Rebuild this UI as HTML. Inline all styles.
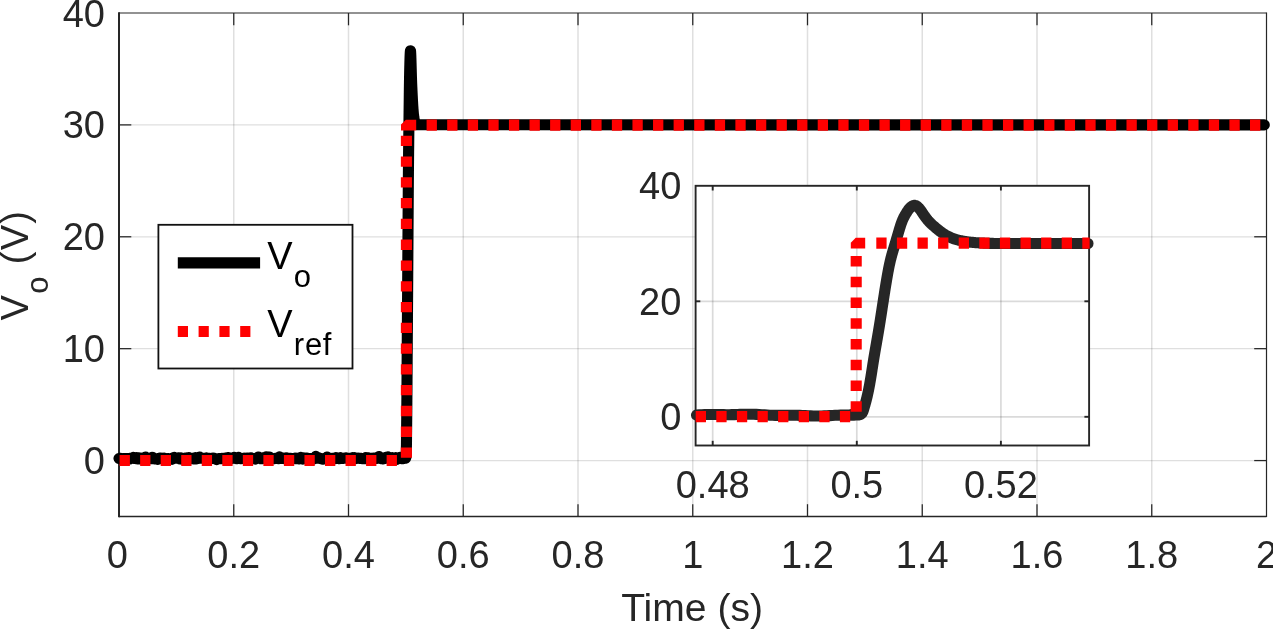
<!DOCTYPE html>
<html lang="en"><head><meta charset="utf-8"><title>Vo step response</title>
<style>html,body{margin:0;padding:0;background:#fff;}body{width:1273px;height:630px;overflow:hidden;}svg{display:block;}text{font-family:"Liberation Sans",Arial,Helvetica,sans-serif;fill:#262626;}</style></head><body>
<svg width="1273" height="630" viewBox="0 0 1273 630">
<rect width="1273" height="630" fill="#fff"/>
<g stroke="#262626" stroke-opacity="0.15" stroke-width="1.3" fill="none">
<line x1="233.75" y1="13.00" x2="233.75" y2="516.50" stroke-width="1.5"/>
<line x1="348.50" y1="13.00" x2="348.50" y2="516.50" stroke-width="1.5"/>
<line x1="463.25" y1="13.00" x2="463.25" y2="516.50" stroke-width="1.5"/>
<line x1="578.00" y1="13.00" x2="578.00" y2="516.50" stroke-width="1.5"/>
<line x1="692.75" y1="13.00" x2="692.75" y2="516.50" stroke-width="1.5"/>
<line x1="807.50" y1="13.00" x2="807.50" y2="516.50" stroke-width="1.5"/>
<line x1="922.25" y1="13.00" x2="922.25" y2="516.50" stroke-width="1.5"/>
<line x1="1037.00" y1="13.00" x2="1037.00" y2="516.50" stroke-width="1.5"/>
<line x1="1151.75" y1="13.00" x2="1151.75" y2="516.50" stroke-width="1.5"/>
<line x1="119.00" y1="460.56" x2="1266.50" y2="460.56"/>
<line x1="119.00" y1="348.67" x2="1266.50" y2="348.67"/>
<line x1="119.00" y1="236.78" x2="1266.50" y2="236.78"/>
<line x1="119.00" y1="124.89" x2="1266.50" y2="124.89"/>
</g>
<g stroke="#262626" fill="none">
<line x1="119.00" y1="12.30" x2="119.00" y2="517.20" stroke-width="2"/>
<line x1="119.00" y1="13.00" x2="1266.50" y2="13.00" stroke-width="1.15"/>
<line x1="1266.50" y1="12.50" x2="1266.50" y2="517.00" stroke-width="1.2"/>
<line x1="119.00" y1="516.50" x2="1266.50" y2="516.50" stroke-width="1.3"/>
<g stroke-width="1.25">
<line x1="233.75" y1="516.50" x2="233.75" y2="504.20"/>
<line x1="233.75" y1="13.00" x2="233.75" y2="25.30"/>
<line x1="348.50" y1="516.50" x2="348.50" y2="504.20"/>
<line x1="348.50" y1="13.00" x2="348.50" y2="25.30"/>
<line x1="463.25" y1="516.50" x2="463.25" y2="504.20"/>
<line x1="463.25" y1="13.00" x2="463.25" y2="25.30"/>
<line x1="578.00" y1="516.50" x2="578.00" y2="504.20"/>
<line x1="578.00" y1="13.00" x2="578.00" y2="25.30"/>
<line x1="692.75" y1="516.50" x2="692.75" y2="504.20"/>
<line x1="692.75" y1="13.00" x2="692.75" y2="25.30"/>
<line x1="807.50" y1="516.50" x2="807.50" y2="504.20"/>
<line x1="807.50" y1="13.00" x2="807.50" y2="25.30"/>
<line x1="922.25" y1="516.50" x2="922.25" y2="504.20"/>
<line x1="922.25" y1="13.00" x2="922.25" y2="25.30"/>
<line x1="1037.00" y1="516.50" x2="1037.00" y2="504.20"/>
<line x1="1037.00" y1="13.00" x2="1037.00" y2="25.30"/>
<line x1="1151.75" y1="516.50" x2="1151.75" y2="504.20"/>
<line x1="1151.75" y1="13.00" x2="1151.75" y2="25.30"/>
<line x1="119.00" y1="460.56" x2="131.30" y2="460.56"/>
<line x1="1266.50" y1="460.56" x2="1254.20" y2="460.56"/>
<line x1="119.00" y1="348.67" x2="131.30" y2="348.67"/>
<line x1="1266.50" y1="348.67" x2="1254.20" y2="348.67"/>
<line x1="119.00" y1="236.78" x2="131.30" y2="236.78"/>
<line x1="1266.50" y1="236.78" x2="1254.20" y2="236.78"/>
<line x1="119.00" y1="124.89" x2="131.30" y2="124.89"/>
<line x1="1266.50" y1="124.89" x2="1254.20" y2="124.89"/>
</g></g>
<path d="M119.00,458.43 L120.11,458.26 L121.21,458.39 L122.32,459.16 L123.43,458.54 L124.53,458.57 L125.64,458.46 L126.75,458.68 L127.85,458.45 L128.96,458.62 L130.07,458.94 L131.17,458.08 L132.28,458.08 L133.38,457.39 L134.49,458.41 L135.60,458.59 L136.70,457.54 L137.81,459.04 L138.92,458.04 L140.02,458.86 L141.13,458.89 L142.24,458.51 L143.34,457.85 L144.45,458.34 L145.56,457.09 L146.66,458.71 L147.77,458.18 L148.88,458.49 L149.98,458.73 L151.09,458.52 L152.20,457.27 L153.30,457.66 L154.41,458.92 L155.52,458.67 L156.62,458.74 L157.73,459.38 L158.83,458.79 L159.94,458.01 L161.05,457.99 L162.15,458.48 L163.26,459.07 L164.37,458.18 L165.47,458.57 L166.58,459.11 L167.69,458.66 L168.79,458.66 L169.90,458.77 L171.01,458.42 L172.11,459.31 L173.22,458.53 L174.33,457.40 L175.43,458.10 L176.54,458.00 L177.65,457.99 L178.75,457.85 L179.86,458.87 L180.97,458.10 L182.07,459.16 L183.18,458.67 L184.28,459.18 L185.39,458.02 L186.50,457.91 L187.60,458.33 L188.71,457.73 L189.82,458.69 L190.92,458.37 L192.03,458.37 L193.14,458.85 L194.24,458.26 L195.35,457.67 L196.46,458.83 L197.56,458.08 L198.67,458.49 L199.78,457.15 L200.88,458.24 L201.99,458.16 L203.10,458.18 L204.20,458.33 L205.31,458.98 L206.41,457.88 L207.52,458.97 L208.63,458.34 L209.73,458.19 L210.84,458.76 L211.95,458.37 L213.05,457.97 L214.16,458.44 L215.27,458.78 L216.37,459.57 L217.48,458.81 L218.59,458.66 L219.69,458.63 L220.80,458.81 L221.91,458.28 L223.01,458.65 L224.12,458.47 L225.23,458.16 L226.33,458.76 L227.44,457.74 L228.55,457.58 L229.65,458.09 L230.76,458.94 L231.86,458.46 L232.97,458.21 L234.08,457.45 L235.18,458.37 L236.29,458.64 L237.40,458.72 L238.50,457.35 L239.61,458.31 L240.72,458.63 L241.82,458.50 L242.93,458.59 L244.04,458.15 L245.14,458.70 L246.25,458.24 L247.36,458.10 L248.46,458.24 L249.57,458.76 L250.68,457.90 L251.78,458.70 L252.89,458.26 L254.00,458.72 L255.10,459.11 L256.21,458.34 L257.31,458.32 L258.42,456.98 L259.53,458.32 L260.63,458.68 L261.74,458.72 L262.85,458.50 L263.95,457.68 L265.06,458.11 L266.17,456.89 L267.27,458.21 L268.38,458.62 L269.49,457.02 L270.59,458.09 L271.70,458.64 L272.81,458.74 L273.91,458.78 L275.02,458.40 L276.13,458.38 L277.23,457.94 L278.34,458.71 L279.45,456.76 L280.55,458.26 L281.66,458.49 L282.76,458.10 L283.87,458.24 L284.98,458.77 L286.08,458.01 L287.19,458.91 L288.30,458.41 L289.40,458.43 L290.51,458.26 L291.62,458.71 L292.72,458.44 L293.83,458.48 L294.94,458.04 L296.04,458.74 L297.15,458.40 L298.26,458.53 L299.36,458.94 L300.47,457.38 L301.58,458.46 L302.68,459.01 L303.79,457.88 L304.89,458.40 L306.00,458.28 L307.11,458.09 L308.21,458.68 L309.32,458.60 L310.43,458.64 L311.53,458.48 L312.64,459.07 L313.75,458.91 L314.85,458.48 L315.96,456.32 L317.07,458.18 L318.17,457.50 L319.28,458.16 L320.39,458.63 L321.49,458.48 L322.60,459.22 L323.71,458.81 L324.81,458.83 L325.92,458.32 L327.03,457.04 L328.13,458.65 L329.24,458.59 L330.34,459.04 L331.45,458.48 L332.56,458.33 L333.66,458.26 L334.77,458.74 L335.88,457.65 L336.98,457.96 L338.09,458.17 L339.20,458.64 L340.30,457.63 L341.41,458.37 L342.52,458.44 L343.62,458.24 L344.73,458.13 L345.84,457.89 L346.94,457.98 L348.05,458.47 L349.16,458.28 L350.26,458.30 L351.37,458.66 L352.48,457.68 L353.58,458.61 L354.69,457.65 L355.79,458.57 L356.90,458.33 L358.01,458.00 L359.11,458.42 L360.22,458.28 L361.33,458.52 L362.43,458.62 L363.54,458.49 L364.65,458.68 L365.75,457.79 L366.86,458.50 L367.97,457.76 L369.07,459.48 L370.18,458.42 L371.29,458.21 L372.39,458.54 L373.50,458.00 L374.61,458.18 L375.71,458.54 L376.82,458.26 L377.93,457.33 L379.03,456.54 L380.14,458.31 L381.24,458.60 L382.35,458.38 L383.46,458.93 L384.56,458.51 L385.67,457.47 L386.78,458.01 L387.88,457.07 L388.99,458.00 L390.10,457.69 L391.20,458.20 L392.31,457.62 L393.42,458.01 L394.52,458.36 L395.63,457.76 L396.74,459.35 L397.84,458.65 L398.95,458.33 L400.06,457.51 L401.16,458.49 L402.27,458.68 L403.38,458.69 L404.48,457.37 L405.59,458.18 L405.33,457.07 L405.40,456.51 L405.47,456.23 L405.54,456.17 L405.61,456.27 L405.68,456.48 L405.75,456.72 L405.83,456.95 L405.90,457.11 L405.97,457.13 L406.04,456.96 L406.11,456.53 L406.17,455.83 L406.23,454.86 L406.28,453.67 L406.32,452.28 L406.36,450.75 L406.38,449.11 L406.40,447.42 L406.42,445.72 L406.45,444.04 L406.47,442.36 L406.49,440.71 L406.51,439.06 L406.52,437.41 L406.54,435.78 L406.56,434.14 L406.58,432.50 L406.60,430.86 L406.62,429.22 L406.63,427.57 L406.65,425.91 L406.67,424.25 L406.68,422.59 L406.70,420.92 L406.72,419.25 L406.73,417.57 L406.75,415.89 L406.76,414.21 L406.78,412.52 L406.79,410.84 L406.81,409.15 L406.82,407.45 L406.83,405.76 L406.85,404.07 L406.86,402.37 L406.87,400.68 L406.89,398.98 L406.90,397.29 L406.91,395.59 L406.92,393.90 L406.94,392.20 L406.95,390.50 L406.96,388.81 L406.97,387.11 L406.98,385.42 L407.00,383.72 L407.01,382.02 L407.02,380.33 L407.03,378.63 L407.04,376.94 L407.05,375.24 L407.06,373.54 L407.07,371.85 L407.08,370.15 L407.09,368.46 L407.11,366.76 L407.12,365.06 L407.13,363.37 L407.14,361.67 L407.15,359.98 L407.16,358.28 L407.17,356.59 L407.18,354.89 L407.19,353.20 L407.20,351.50 L407.22,349.81 L407.23,348.12 L407.24,346.42 L407.25,344.73 L407.26,343.04 L407.27,341.34 L407.29,339.65 L407.30,337.95 L407.31,336.26 L407.32,334.57 L407.33,332.88 L407.34,331.18 L407.36,329.49 L407.37,327.80 L407.38,326.10 L407.39,324.41 L407.40,322.72 L407.42,321.02 L407.43,319.33 L407.44,317.64 L407.45,315.94 L407.47,314.25 L407.48,312.56 L407.49,310.86 L407.50,309.17 L407.51,307.48 L407.53,305.78 L407.54,304.09 L407.55,302.39 L407.56,300.70 L407.57,299.01 L407.59,297.31 L407.60,295.62 L407.61,293.92 L407.62,292.23 L407.63,290.53 L407.64,288.83 L407.65,287.14 L407.67,285.44 L407.68,283.75 L407.69,282.05 L407.70,280.35 L407.71,278.66 L407.72,276.96 L407.73,275.26 L407.74,273.56 L407.75,271.87 L407.77,270.17 L407.78,268.47 L407.79,266.77 L407.80,265.08 L407.81,263.38 L407.82,261.68 L407.83,259.98 L407.84,258.28 L407.85,256.59 L407.86,254.89 L407.87,253.19 L407.88,251.49 L407.89,249.79 L407.91,248.10 L407.92,246.40 L407.93,244.70 L407.94,243.00 L407.95,241.30 L407.96,239.60 L407.97,237.91 L407.98,236.21 L407.99,234.51 L408.00,232.81 L408.01,231.12 L408.02,229.42 L408.03,227.72 L408.04,226.02 L408.06,224.33 L408.07,222.63 L408.08,220.93 L408.09,219.23 L408.10,217.54 L408.11,215.84 L408.12,214.14 L408.13,212.45 L408.14,210.75 L408.16,209.06 L408.17,207.36 L408.18,205.66 L408.19,203.97 L408.20,202.27 L408.21,200.58 L408.22,198.88 L408.24,197.19 L408.25,195.49 L408.26,193.80 L408.27,192.10 L408.28,190.41 L408.30,188.71 L408.31,187.02 L408.32,185.33 L408.33,183.63 L408.34,181.94 L408.36,180.25 L408.37,178.56 L408.38,176.87 L408.40,175.18 L408.41,173.49 L408.42,171.81 L408.44,170.12 L408.45,168.44 L408.47,166.76 L408.48,165.08 L408.50,163.40 L408.51,161.72 L408.53,160.05 L408.54,158.37 L408.56,156.70 L408.58,155.04 L408.59,153.37 L408.61,151.71 L408.63,150.05 L408.65,148.39 L408.67,146.73 L408.69,145.08 L408.70,143.42 L408.72,141.77 L408.74,140.12 L408.76,138.47 L408.78,136.83 L408.80,135.18 L408.82,133.53 L408.84,131.89 L408.87,130.24 L408.89,128.60 L408.91,126.95 L408.93,125.31 L408.95,123.66 L408.97,122.02 L408.99,120.37 L409.01,118.73 L409.03,117.08 L409.05,115.44 L409.07,113.79 L409.09,112.14 L409.11,110.50 L409.13,108.85 L409.15,107.20 L409.17,105.55 L409.19,103.90 L409.21,102.25 L409.23,100.60 L409.25,98.95 L409.27,97.30 L409.29,95.65 L409.31,94.01 L409.33,92.36 L409.35,90.72 L409.37,89.08 L409.39,87.45 L409.42,85.82 L409.44,84.20 L409.47,82.59 L409.49,81.00 L409.52,79.41 L409.55,77.83 L409.58,76.27 L409.61,74.72 L409.64,73.18 L409.67,71.66 L409.71,70.16 L409.74,68.67 L409.78,67.19 L409.82,65.73 L409.85,64.28 L409.89,62.85 L409.93,61.43 L409.97,60.04 L410.01,58.67 L410.05,57.33 L410.10,56.02 L410.16,54.76 L410.21,53.54 L410.27,52.46 L410.34,51.58 L410.40,50.99 L410.47,50.77 L410.54,50.99 L410.60,51.60 L410.66,52.52 L410.72,53.67 L410.78,54.94 L410.83,56.26 L410.87,57.59 L410.92,58.95 L410.96,60.32 L411.00,61.70 L411.04,63.10 L411.08,64.51 L411.12,65.92 L411.16,67.34 L411.19,68.76 L411.24,70.18 L411.28,71.60 L411.32,73.01 L411.36,74.40 L411.40,75.79 L411.44,77.16 L411.49,78.50 L411.53,79.83 L411.58,81.13 L411.63,82.40 L411.67,83.64 L411.72,84.86 L411.77,86.05 L411.83,87.22 L411.88,88.38 L411.93,89.53 L411.98,90.68 L412.04,91.82 L412.09,92.95 L412.14,94.07 L412.20,95.19 L412.25,96.30 L412.31,97.39 L412.36,98.47 L412.42,99.54 L412.47,100.59 L412.53,101.62 L412.59,102.63 L412.64,103.63 L412.70,104.60 L412.76,105.55 L412.82,106.48 L412.88,107.38 L412.94,108.26 L413.00,109.11 L413.07,109.94 L413.13,110.73 L413.19,111.50 L413.26,112.23 L413.32,112.94 L413.38,113.62 L413.45,114.27 L413.52,114.89 L413.58,115.48 L413.65,116.04 L413.72,116.57 L413.78,117.08 L413.85,117.56 L413.92,118.01 L413.99,118.43 L414.06,118.83 L414.13,119.20 L414.20,119.55 L414.27,119.88 L414.33,120.19 L414.40,120.48 L414.47,120.75 L414.54,121.02 L414.61,121.26 L414.68,121.50 L414.75,121.72 L414.82,121.93 L414.89,122.13 L414.96,122.32 L415.03,122.50 L415.11,122.67 L415.18,122.83 L415.25,122.98 L415.32,123.12 L415.39,123.25 L415.46,123.37 L415.53,123.49 L415.60,123.59 L415.67,123.69 L415.74,123.78 L415.81,123.87 L415.88,123.95 L415.95,124.03 L416.02,124.10 L416.09,124.17 L416.16,124.23 L416.23,124.29 L416.30,124.35 L416.37,124.40 L416.44,124.45 L416.52,124.50 L416.59,124.54 L416.66,124.58 L416.73,124.62 L416.80,124.65 L416.87,124.68 L416.94,124.71 L417.01,124.73 L417.08,124.75 L417.15,124.77 L417.22,124.78 L417.29,124.79 L417.36,124.80 L417.43,124.81 L417.50,124.81 L417.57,124.81 L417.64,124.82 L417.72,124.81 L417.79,124.81 L417.86,124.81 L417.93,124.80 L418.00,124.80 L418.07,124.79 L418.14,124.79 L418.21,124.78 L418.28,124.77 L418.35,124.77 L418.42,124.76 L418.49,124.76 L418.56,124.75 L418.63,124.75 L418.70,124.75 L418.77,124.74 L418.85,124.75 L418.92,124.75 L418.99,124.75 L419.06,124.76 L419.13,124.77 L419.20,124.78 L419.27,124.79 L1264.30,124.89" fill="none" stroke="#000" stroke-width="11.10" stroke-linejoin="round" stroke-linecap="round"/>
<g fill="none" stroke="#ff0000" stroke-width="11.10">
<path d="M119.6,460.5 H406.3" stroke-dasharray="10.3 10.24"/>
<path d="M406.4,457.7 V130.6" stroke-dasharray="10.3 10.48"/>
<path d="M426.6,125.1 H1266" stroke-dasharray="10.3 10.285"/>
</g>
<polygon points="401,130.5 401,124.6 405.9,119.7 416.2,119.7 416.2,130.5" fill="#ff0000"/>
<g font-size="38" text-anchor="middle">
<text x="117.40" y="568.1">0</text>
<text x="233.75" y="568.1">0.2</text>
<text x="348.50" y="568.1">0.4</text>
<text x="463.25" y="568.1">0.6</text>
<text x="578.00" y="568.1">0.8</text>
<text x="692.75" y="568.1">1</text>
<text x="807.50" y="568.1">1.2</text>
<text x="922.25" y="568.1">1.4</text>
<text x="1037.00" y="568.1">1.6</text>
<text x="1151.75" y="568.1">1.8</text>
<text x="1266.50" y="568.1">2</text>
</g>
<g font-size="38" text-anchor="end">
<text x="105.0" y="474.16">0</text>
<text x="105.0" y="362.27">10</text>
<text x="105.0" y="250.38">20</text>
<text x="105.0" y="138.49">30</text>
<text x="105.0" y="26.60">40</text>
</g>
<text x="621.2" y="621.2" font-size="38" textLength="141.8" lengthAdjust="spacingAndGlyphs">Time (s)</text>
<g transform="translate(27.5,320.6) rotate(-90)"><text x="0" y="0" font-size="38">V<tspan dx="1.5" dy="20" font-size="31">o</tspan><tspan dx="0.6" dy="-20" letter-spacing="1.2"> (V)</tspan></text></g>
<rect x="158.4" y="224.8" width="194.1" height="143.7" fill="#fff" stroke="#111" stroke-width="1.8"/>
<line x1="177.8" y1="262.9" x2="260.1" y2="262.9" stroke="#000" stroke-width="11.10"/>
<line x1="177.8" y1="331.5" x2="260.1" y2="331.5" stroke="#ff0000" stroke-width="11.10" stroke-dasharray="10.2 10.6"/>
<text x="267.3" y="268.6" font-size="38" style="fill:#000">V<tspan dx="1.2" dy="18.8" font-size="31">o</tspan></text>
<text x="267.3" y="336.9" font-size="38" style="fill:#000">V<tspan dx="1.2" dy="18.4" font-size="31" letter-spacing="0.7">ref</tspan></text>
<rect x="695.60" y="185.80" width="393.50" height="259.70" fill="#fff"/>
<g stroke="#262626" stroke-opacity="0.17" stroke-width="1.7" fill="none">
<line x1="712.70" y1="185.80" x2="712.70" y2="445.50"/>
<line x1="856.80" y1="185.80" x2="856.80" y2="445.50"/>
<line x1="1000.90" y1="185.80" x2="1000.90" y2="445.50"/>
<line x1="695.60" y1="416.80" x2="1089.10" y2="416.80"/>
<line x1="695.60" y1="301.30" x2="1089.10" y2="301.30"/>
</g>
<g stroke="#262626" fill="none" stroke-width="1.9">
<rect x="695.60" y="185.80" width="393.50" height="259.70"/>
<line x1="712.70" y1="445.50" x2="712.70" y2="440.80"/>
<line x1="712.70" y1="185.80" x2="712.70" y2="190.50"/>
<line x1="856.80" y1="445.50" x2="856.80" y2="440.80"/>
<line x1="856.80" y1="185.80" x2="856.80" y2="190.50"/>
<line x1="1000.90" y1="445.50" x2="1000.90" y2="440.80"/>
<line x1="1000.90" y1="185.80" x2="1000.90" y2="190.50"/>
<line x1="695.60" y1="416.80" x2="700.30" y2="416.80"/>
<line x1="1089.10" y1="416.80" x2="1084.40" y2="416.80"/>
<line x1="695.60" y1="301.30" x2="700.30" y2="301.30"/>
<line x1="1089.10" y1="301.30" x2="1084.40" y2="301.30"/>
</g>
<path d="M696.50,415.07 L699.22,414.88 L701.93,414.72 L704.65,414.58 L707.37,414.49 L710.08,414.44 L712.80,414.44 L715.52,414.47 L718.24,414.53 L720.95,414.59 L723.67,414.65 L726.39,414.68 L729.10,414.69 L731.82,414.66 L734.54,414.59 L737.25,414.50 L739.97,414.41 L742.69,414.31 L745.41,414.24 L748.12,414.20 L750.84,414.21 L753.56,414.27 L756.27,414.37 L758.99,414.51 L761.71,414.68 L764.42,414.86 L767.14,415.03 L769.86,415.18 L772.57,415.29 L775.29,415.35 L778.01,415.38 L780.73,415.37 L783.44,415.34 L786.16,415.30 L788.88,415.26 L791.59,415.25 L794.31,415.27 L797.03,415.32 L799.74,415.41 L802.46,415.53 L805.18,415.66 L807.89,415.80 L810.61,415.91 L813.33,416.00 L816.05,416.04 L818.76,416.03 L821.48,415.97 L824.20,415.87 L826.91,415.74 L829.63,415.59 L832.35,415.44 L835.06,415.30 L837.78,415.20 L840.50,415.13 L843.22,415.10 L845.93,415.10 L848.65,415.13 L851.37,415.17 L854.08,415.20 L850.00,415.00 L850.83,414.71 L851.69,414.57 L852.57,414.54 L853.47,414.59 L854.37,414.69 L855.28,414.82 L856.19,414.94 L857.10,415.02 L858.00,415.03 L858.88,414.94 L859.74,414.72 L860.56,414.36 L861.30,413.86 L861.93,413.25 L862.43,412.53 L862.83,411.74 L863.16,410.89 L863.44,410.02 L863.71,409.14 L863.96,408.27 L864.22,407.41 L864.47,406.55 L864.71,405.70 L864.95,404.86 L865.19,404.01 L865.43,403.17 L865.65,402.32 L865.88,401.47 L866.10,400.63 L866.32,399.77 L866.53,398.92 L866.75,398.06 L866.95,397.20 L867.16,396.34 L867.36,395.48 L867.55,394.61 L867.75,393.75 L867.94,392.88 L868.12,392.01 L868.31,391.14 L868.49,390.27 L868.67,389.39 L868.84,388.52 L869.01,387.64 L869.18,386.77 L869.34,385.90 L869.51,385.02 L869.67,384.14 L869.83,383.27 L869.98,382.39 L870.13,381.52 L870.28,380.64 L870.43,379.77 L870.58,378.89 L870.72,378.02 L870.87,377.14 L871.01,376.27 L871.15,375.39 L871.29,374.52 L871.43,373.64 L871.57,372.77 L871.70,371.89 L871.84,371.01 L871.98,370.14 L872.11,369.26 L872.25,368.39 L872.39,367.51 L872.52,366.64 L872.66,365.76 L872.79,364.89 L872.93,364.01 L873.07,363.14 L873.21,362.26 L873.35,361.39 L873.49,360.51 L873.63,359.64 L873.78,358.77 L873.92,357.89 L874.07,357.02 L874.21,356.14 L874.36,355.27 L874.51,354.40 L874.66,353.52 L874.80,352.65 L874.95,351.77 L875.10,350.90 L875.25,350.03 L875.40,349.15 L875.56,348.28 L875.71,347.40 L875.86,346.53 L876.01,345.66 L876.16,344.78 L876.32,343.91 L876.47,343.03 L876.62,342.16 L876.77,341.29 L876.92,340.41 L877.07,339.54 L877.23,338.66 L877.38,337.79 L877.53,336.92 L877.68,336.04 L877.83,335.17 L877.98,334.29 L878.13,333.42 L878.27,332.54 L878.42,331.67 L878.57,330.79 L878.71,329.92 L878.86,329.04 L879.00,328.17 L879.15,327.29 L879.29,326.42 L879.43,325.54 L879.57,324.67 L879.71,323.79 L879.85,322.91 L879.99,322.04 L880.13,321.16 L880.27,320.29 L880.41,319.41 L880.54,318.53 L880.68,317.66 L880.82,316.78 L880.95,315.91 L881.09,315.03 L881.22,314.15 L881.36,313.28 L881.49,312.40 L881.63,311.52 L881.76,310.65 L881.90,309.77 L882.03,308.89 L882.16,308.02 L882.30,307.14 L882.43,306.26 L882.57,305.39 L882.70,304.51 L882.83,303.64 L882.97,302.76 L883.10,301.88 L883.24,301.01 L883.37,300.13 L883.51,299.25 L883.64,298.38 L883.78,297.50 L883.91,296.63 L884.05,295.75 L884.19,294.87 L884.32,294.00 L884.46,293.12 L884.60,292.25 L884.74,291.37 L884.88,290.49 L885.01,289.62 L885.15,288.74 L885.30,287.87 L885.44,286.99 L885.58,286.12 L885.72,285.24 L885.86,284.37 L886.01,283.49 L886.15,282.62 L886.30,281.74 L886.45,280.87 L886.59,279.99 L886.74,279.12 L886.89,278.24 L887.04,277.37 L887.19,276.49 L887.34,275.62 L887.50,274.74 L887.65,273.87 L887.81,273.00 L887.97,272.12 L888.13,271.25 L888.29,270.38 L888.46,269.51 L888.63,268.64 L888.80,267.77 L888.98,266.90 L889.15,266.03 L889.34,265.16 L889.52,264.29 L889.71,263.43 L889.90,262.56 L890.10,261.70 L890.30,260.83 L890.51,259.97 L890.72,259.11 L890.94,258.25 L891.16,257.39 L891.38,256.53 L891.61,255.68 L891.85,254.82 L892.09,253.97 L892.33,253.12 L892.58,252.26 L892.82,251.41 L893.07,250.56 L893.33,249.71 L893.58,248.86 L893.84,248.01 L894.09,247.16 L894.35,246.31 L894.61,245.46 L894.86,244.62 L895.12,243.77 L895.37,242.92 L895.63,242.07 L895.88,241.22 L896.14,240.37 L896.39,239.52 L896.64,238.67 L896.89,237.82 L897.14,236.97 L897.39,236.12 L897.64,235.27 L897.90,234.42 L898.15,233.57 L898.40,232.72 L898.65,231.87 L898.90,231.02 L899.15,230.16 L899.40,229.31 L899.66,228.46 L899.92,227.61 L900.18,226.76 L900.44,225.91 L900.72,225.07 L901.00,224.22 L901.29,223.39 L901.59,222.55 L901.90,221.72 L902.22,220.89 L902.56,220.08 L902.91,219.26 L903.28,218.45 L903.67,217.65 L904.08,216.86 L904.50,216.08 L904.93,215.30 L905.38,214.53 L905.83,213.77 L906.29,213.01 L906.76,212.27 L907.22,211.53 L907.70,210.80 L908.20,210.08 L908.72,209.37 L909.28,208.68 L909.89,208.01 L910.55,207.35 L911.28,206.73 L912.05,206.17 L912.86,205.71 L913.69,205.41 L914.52,205.30 L915.34,205.41 L916.14,205.72 L916.92,206.20 L917.66,206.79 L918.35,207.44 L918.99,208.13 L919.58,208.82 L920.13,209.52 L920.65,210.22 L921.15,210.94 L921.64,211.66 L922.12,212.38 L922.61,213.11 L923.11,213.85 L923.61,214.58 L924.11,215.31 L924.62,216.04 L925.14,216.77 L925.66,217.49 L926.19,218.21 L926.73,218.91 L927.28,219.61 L927.84,220.29 L928.42,220.96 L929.01,221.62 L929.62,222.26 L930.25,222.89 L930.89,223.50 L931.54,224.11 L932.19,224.71 L932.85,225.30 L933.52,225.89 L934.18,226.48 L934.85,227.06 L935.52,227.65 L936.19,228.22 L936.87,228.79 L937.55,229.36 L938.24,229.92 L938.94,230.47 L939.64,231.01 L940.36,231.54 L941.07,232.06 L941.80,232.58 L942.53,233.08 L943.27,233.57 L944.02,234.05 L944.78,234.51 L945.54,234.97 L946.31,235.41 L947.09,235.83 L947.88,236.24 L948.67,236.64 L949.48,237.02 L950.29,237.38 L951.10,237.73 L951.93,238.07 L952.76,238.39 L953.59,238.69 L954.43,238.98 L955.28,239.26 L956.12,239.52 L956.98,239.77 L957.83,240.00 L958.69,240.22 L959.56,240.42 L960.42,240.61 L961.29,240.79 L962.16,240.96 L963.04,241.12 L963.91,241.27 L964.79,241.42 L965.66,241.55 L966.54,241.68 L967.42,241.80 L968.30,241.91 L969.18,242.02 L970.06,242.13 L970.94,242.22 L971.83,242.32 L972.71,242.40 L973.59,242.49 L974.48,242.56 L975.36,242.64 L976.24,242.70 L977.13,242.77 L978.01,242.83 L978.90,242.88 L979.78,242.93 L980.67,242.98 L981.55,243.02 L982.44,243.07 L983.33,243.11 L984.21,243.14 L985.10,243.18 L985.98,243.21 L986.87,243.24 L987.76,243.27 L988.64,243.30 L989.53,243.33 L990.42,243.35 L991.30,243.37 L992.19,243.39 L993.08,243.41 L993.96,243.43 L994.85,243.44 L995.74,243.46 L996.62,243.47 L997.51,243.48 L998.40,243.49 L999.28,243.50 L1000.17,243.50 L1001.06,243.51 L1001.94,243.51 L1002.83,243.51 L1003.72,243.51 L1004.60,243.51 L1005.49,243.51 L1006.38,243.51 L1007.26,243.51 L1008.15,243.51 L1009.04,243.50 L1009.92,243.50 L1010.81,243.50 L1011.70,243.49 L1012.59,243.49 L1013.47,243.49 L1014.36,243.48 L1015.25,243.48 L1016.13,243.48 L1017.02,243.48 L1017.91,243.48 L1018.79,243.48 L1019.68,243.48 L1020.57,243.48 L1021.45,243.48 L1022.34,243.48 L1023.23,243.49 L1024.11,243.49 L1025.00,243.50 L1088.00,243.50" fill="none" stroke="#262626" stroke-width="11.10" stroke-linejoin="round" stroke-linecap="round"/>
<g fill="none" stroke="#ff0000" stroke-width="11.10">
<path d="M695.7,416.6 H856" stroke-dasharray="10.3 10.3"/>
<path d="M856.2,411.7 V247.9" stroke-dasharray="10.4 10.36"/>
<path d="M876.3,243.1 H1089.6" stroke-dasharray="10.3 10.3"/>
</g>
<polygon points="850.8,248.5 850.8,242.8 855.7,237.7 865.2,237.7 865.2,248.5" fill="#ff0000"/>
<g font-size="38" text-anchor="end">
<text x="681.3" y="430.40">0</text>
<text x="681.3" y="314.90">20</text>
<text x="681.3" y="199.40">40</text>
</g>
<g font-size="38" text-anchor="middle">
<text x="712.70" y="497.5">0.48</text>
<text x="856.80" y="497.5">0.5</text>
<text x="1000.90" y="497.5">0.52</text>
</g>
</svg></body></html>
